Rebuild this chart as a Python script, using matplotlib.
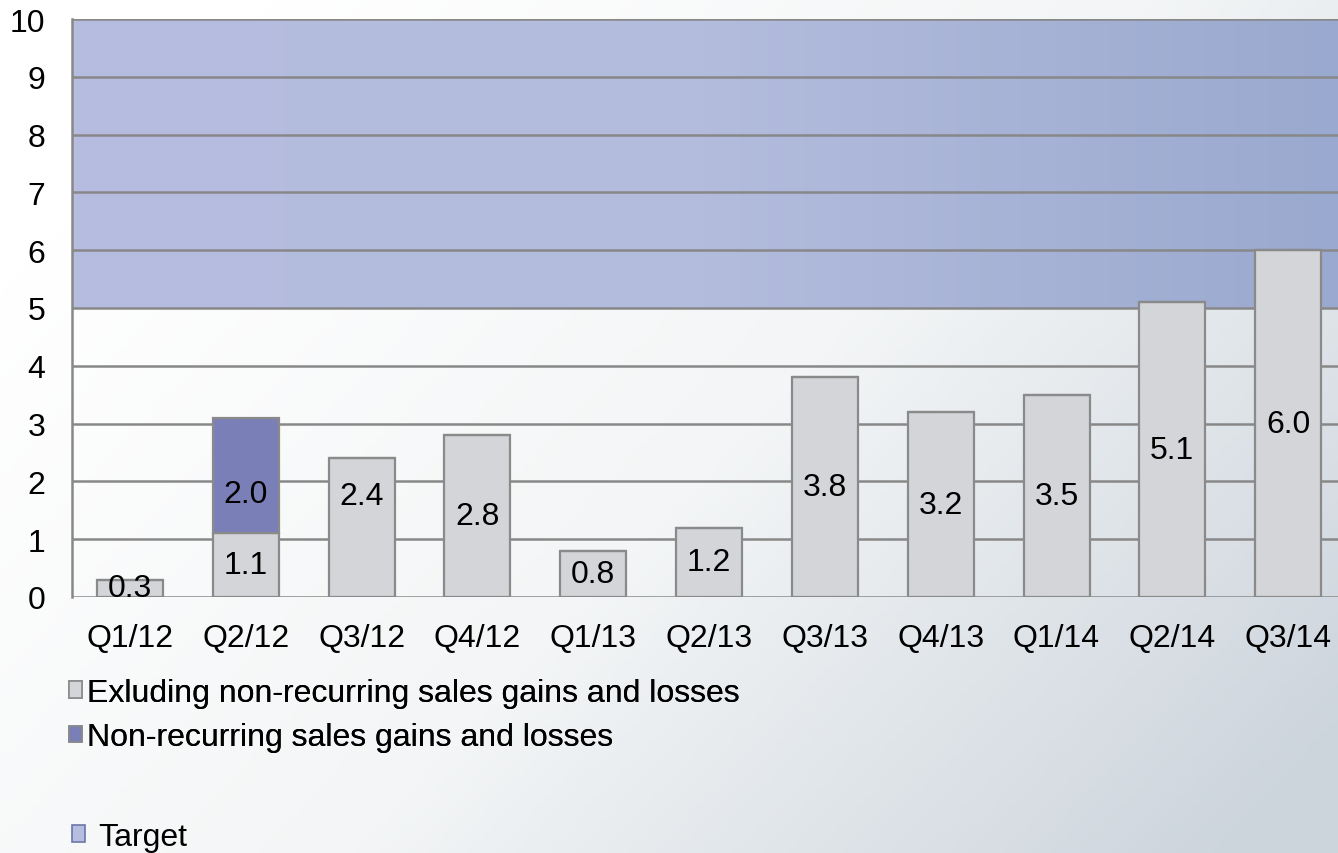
import numpy as np
import matplotlib
matplotlib.use("Agg")
import matplotlib.pyplot as plt
from matplotlib.patches import Patch
from matplotlib.colors import LinearSegmentedColormap

plt.rcParams['font.family'] = ['Liberation Sans', 'DejaVu Sans']

categories = ["Q1/12", "Q2/12", "Q3/12", "Q4/12", "Q1/13", "Q2/13",
              "Q3/13", "Q4/13", "Q1/14", "Q2/14", "Q3/14"]
excluding = [0.3, 1.1, 2.4, 2.8, 0.8, 1.2, 3.8, 3.2, 3.5, 5.1, 6.0]
non_recurring = [0, 2.0, 0, 0, 0, 0, 0, 0, 0, 0, 0]
target_low, target_high = 5, 10
yticks = list(range(0, 11))
series_names = ["Exluding non-recurring sales gains and losses",
                "Non-recurring sales gains and losses", "Target"]

FS = 23
W, H = 1338, 854
fig = plt.figure(figsize=(W / 100, H / 100), dpi=100)

# background gradient
bg = fig.add_axes([0, 0, 1, 1], zorder=-10)
xx, yy = np.meshgrid(np.linspace(0, 1, 300), np.linspace(0, 1, 200))
t = np.clip(0.75 * xx + 0.45 * yy - 0.15, 0, 1)
bg_cmap = LinearSegmentedColormap.from_list("bg", ["#ffffff", "#f3f5f6", "#ccd4dc"])
bg.imshow(t, cmap=bg_cmap, aspect='auto', extent=[0, 1, 0, 1], origin='upper')
bg.axis('off')

ax = fig.add_axes([72 / W, (H - 598) / H, (W - 72) / W, (598 - 20) / H])
ax.patch.set_alpha(0)
x = np.arange(len(categories))
xlim = (-0.5, 10.43)
ax.set_xlim(*xlim)
ax.set_ylim(0, 10)

# target band gradient
band_cmap = LinearSegmentedColormap.from_list("band", ["#b6bde0", "#b3bcdd", "#9aa9cf"])
grad = np.linspace(0, 1, 256).reshape(1, -1)
ax.imshow(grad, cmap=band_cmap, aspect='auto',
          extent=[xlim[0], xlim[1], target_low, target_high], zorder=0.5)

for yv in yticks:
    ax.axhline(yv, color='#888888', lw=1.8, zorder=1)

bw = 0.57
ax.bar(x, excluding, width=bw, color='#d4d5d8', edgecolor='#8a8a8a', lw=1.6, zorder=2)
ax.bar(x, non_recurring, bottom=excluding, width=bw, color='#7b7fb8',
       edgecolor='#8a8a8a', lw=1.6, zorder=2)

# labels
label_shift = {2: 0.55}
for i, v in enumerate(excluding):
    yl = v / 2 + label_shift.get(i, 0)
    if i == 0:
        yl = 0.15
    ax.text(x[i], yl, f"{v:.1f}", ha='center', va='center', fontsize=FS, zorder=3)
for i, v in enumerate(non_recurring):
    if v > 0:
        ax.text(x[i], excluding[i] + v / 2 - 0.32, f"{v:.1f}", ha='center',
                va='center', fontsize=FS, zorder=3)

ax.set_xticks(x)
ax.set_xticklabels(categories, fontsize=FS)
ax.set_yticks(yticks)
ax.set_yticklabels([str(v) for v in yticks], fontsize=FS)
ax.tick_params(length=0)
ax.tick_params(axis='x', pad=19)
ax.tick_params(axis='y', pad=19)
for s in ['top', 'right', 'bottom']:
    ax.spines[s].set_visible(False)
ax.spines['left'].set_color('#888888')
ax.spines['left'].set_linewidth(1.8)
ax.spines['left'].set_zorder(4)

h1 = Patch(facecolor='#d4d5d8', edgecolor='#8a8a8a', lw=1.2)
h2 = Patch(facecolor='#7b7fb8', edgecolor='#8a8a8a', lw=1.2)
h3 = Patch(facecolor='#b6bde0', edgecolor='#6a78a8', lw=1.2)
leg1 = fig.legend([h1, h2], series_names[:2], loc='upper left',
                  bbox_to_anchor=(69 / W, 1 - 679 / H), frameon=False, fontsize=FS,
                  handlelength=0.42, handleheight=0.42, handletextpad=0.15,
                  labelspacing=0.45, borderpad=0, borderaxespad=0)
leg2 = fig.legend([h3], series_names[2:], loc='upper left',
                  bbox_to_anchor=(72 / W, 1 - 823 / H), frameon=False, fontsize=FS,
                  handlelength=0.42, handleheight=0.42, handletextpad=0.4,
                  borderpad=0, borderaxespad=0)
fig.add_artist(leg1)

fig.savefig("out.png", dpi=100)
